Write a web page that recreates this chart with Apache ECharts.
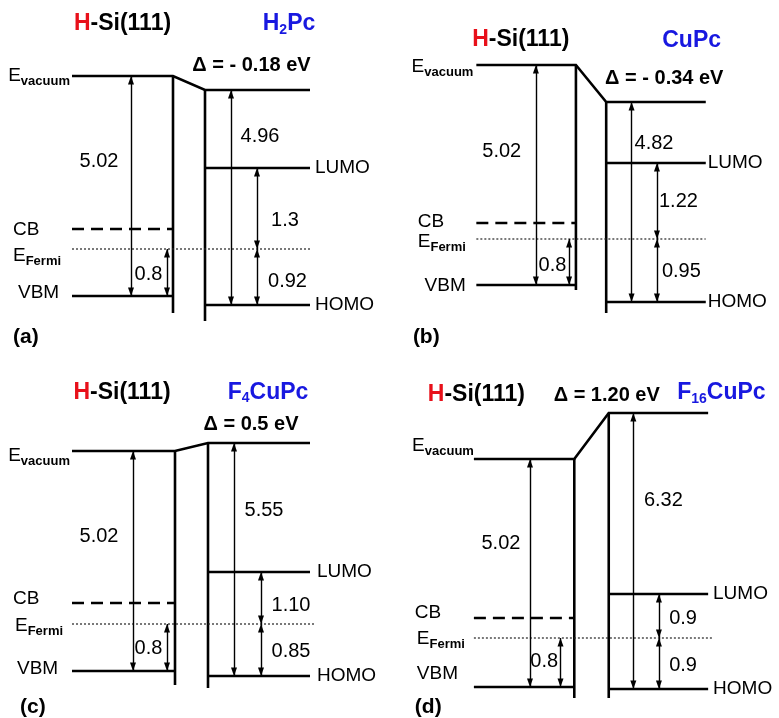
<!DOCTYPE html>
<html><head><meta charset="utf-8">
<script src="https://cdn.jsdelivr.net/npm/echarts@6/dist/echarts.min.js"></script>
<style>html,body{margin:0;padding:0;background:#fff}#c{width:779px;height:718px}</style>
</head><body><div id="c"></div>
<script>
// ---------------- data (values shown in the figure) ----------------
const panelTags = ['(a)', '(b)', '(c)', '(d)'];
const substrate = ['H', '-Si(111)'];
// organic material names: [main, subscript, rest]
const materials = [['H', '2', 'Pc'], ['CuPc', '', ''], ['F', '4', 'CuPc'], ['F', '16', 'CuPc']];
const deltaText = ['- 0.18', '- 0.34', '0.5', '1.20'];          // interface dipole Δ (eV)
const siVacToVbm = ['5.02', '5.02', '5.02', '5.02'];             // eV
const fermiToVbm = ['0.8', '0.8', '0.8', '0.8'];                 // eV
const ionization = ['4.96', '4.82', '5.55', '6.32'];             // organic vacuum -> HOMO (eV)
const lumoAboveFermi = ['1.3', '1.22', '1.10', '0.9'];           // eV
const homoBelowFermi = ['0.92', '0.95', '0.85', '0.9'];          // eV
const levelNames = ['E', 'vacuum', 'CB', 'Fermi', 'VBM', 'LUMO', 'HOMO'];

// schematic (not-to-scale) drawn heights of each level above E_Fermi
const drawnVacSi = [173, 174, 173, 179];
const drawnVacOrg = [159, 137, 181, 225];
const drawnLumo = [81, 76, 52, 44];
const drawnCb = [20, 16, 21, 20];
const drawnVbm = [-47, -46, -47, -49];
const drawnHomo = [-56, -63, -52, -51];
const drawnSiBottom = [-64, -51, -61, -60];
const drawnOrgBottom = [-72, -74, -64, -60];

// ---------------- layout ----------------
const F = '"Liberation Sans", Arial, Helvetica, sans-serif';
const layout = [
  { ox: 72, oy: 249, siR: 101, orgL: 133, orgR: 238, fermiR: 238, ax: [59, 95, 159, 185], lg: 5, subLow: false,
    t: { title: [50.5, 225], mat: [217, 225], delta: [179.5, 184], evac: [-2, 173.5], v1: [27, 88], v08: [76.5, -25.5],
         ip: [188, 113], gu: [213, 28.5], gl: [215.5, -32.5], cb: [-59, 19.5], ef: [-59, -7], vbm: [-54, -44], tag: [-59, -88] } },
  { ox: 478, oy: 239, siR: 102, orgL: 133, orgR: 235, fermiR: 235, ax: [61, 95, 159, 185], lg: 2, subLow: false,
    t: { title: [45.5, 199.5], mat: [220.5, 198.5], delta: [192.5, 160.5], evac: [-3, 172], v1: [26, 87.5], v08: [78, -26],
         ip: [182, 95.5], gu: [207, 37.5], gl: [210, -32.5], cb: [-60, 17], ef: [-60, -2.5], vbm: [-53, -47], tag: [-65, -98] } },
  { ox: 72, oy: 624, siR: 103, orgL: 136, orgR: 238, fermiR: 243, ax: [61, 95, 162, 189], lg: 7, subLow: false,
    t: { title: [50, 231.5], mat: [196, 231.5], delta: [179, 200], evac: [-2, 168], v1: [27, 87.5], v08: [76.5, -24.5],
         ip: [192, 114], gu: [219, 19], gl: [219, -27.5], cb: [-59, 25], ef: [-57, -2], vbm: [-55, -45], tag: [-52, -83] } },
  { ox: 475, oy: 638, siR: 102, orgL: 137, orgR: 238, fermiR: 243, ax: [57, 88, 162, 188], lg: 5, subLow: true,
    t: { title: [2.5, 243.5], mat: [251.5, 245], delta: [135, 243], evac: [0, 192], v1: [27.5, 94.5], v08: [71.5, -23.5],
         ip: [192.5, 138], gu: [212.5, 19.5], gl: [212.5, -27], cb: [-60, 25.5], ef: [-58, -0.5], vbm: [-58, -35.5], tag: [-60, -69] } }
];

const BLACK = '#000';
const RED = '#e8101a';
const BLUE = '#1818e0';
const R = {
  red: { fontFamily: F, fontWeight: 'bold', fontSize: 23, color: RED, lineHeight: 26 },
  ttl: { fontFamily: F, fontWeight: 'bold', fontSize: 23, color: BLACK, lineHeight: 26 },
  mat: { fontFamily: F, fontWeight: 'bold', fontSize: 23, color: BLUE, lineHeight: 26 },
  msub: { fontFamily: F, fontWeight: 'bold', fontSize: 14, color: BLUE, lineHeight: 11, verticalAlign: 'bottom' },
  msubLow: { fontFamily: F, fontWeight: 'bold', fontSize: 14, color: BLUE, lineHeight: 2, verticalAlign: 'bottom' },
  dlt: { fontFamily: F, fontWeight: 'bold', fontSize: 20, color: BLACK },
  num: { fontFamily: F, fontSize: 20, color: BLACK },
  lvl: { fontFamily: F, fontSize: 19, color: BLACK },
  E: { fontFamily: F, fontSize: 19, color: BLACK, lineHeight: 24 },
  subV: { fontFamily: F, fontWeight: 'bold', fontSize: 13, color: BLACK, lineHeight: 8, verticalAlign: 'bottom' },
  subF: { fontFamily: F, fontWeight: 'bold', fontSize: 13, color: BLACK, lineHeight: 12, verticalAlign: 'bottom' },
  tag: { fontFamily: F, fontWeight: 'bold', fontSize: 21, color: BLACK }
};

const grids = [], xAxes = [], yAxes = [], series = [];

layout.forEach((L, i) => {
  grids.push({ left: L.ox - 70, top: L.oy - 230, width: 380, height: 310 });
  xAxes.push({ gridIndex: i, type: 'value', min: -70, max: 310, show: false });
  yAxes.push({ gridIndex: i, type: 'value', min: -80, max: 230, show: false });

  const vS = drawnVacSi[i], vO = drawnVacOrg[i], lu = drawnLumo[i], cb = drawnCb[i];
  const vb = drawnVbm[i], ho = drawnHomo[i];
  const solid = { color: '#000', width: 2.6, type: 'solid', opacity: 1 };

  // energy levels
  series.push({
    type: 'lines', coordinateSystem: 'cartesian2d', xAxisIndex: i, yAxisIndex: i,
    polyline: true, clip: false, silent: true, animation: false, symbol: 'none',
    lineStyle: solid,
    data: [
      { coords: [[0, vS], [L.siR, vS], [L.orgL, vO], [L.orgR, vO]] },
      { coords: [[L.siR, vS], [L.siR, drawnSiBottom[i]]] },
      { coords: [[L.orgL, vO], [L.orgL, drawnOrgBottom[i]]] },
      { coords: [[0, vb], [L.siR, vb]] },
      { coords: [[L.orgL, lu], [L.orgR, lu]] },
      { coords: [[L.orgL, ho], [L.orgR, ho]] },
      { coords: [[0, cb], [L.siR, cb]], lineStyle: { color: '#000', width: 2.6, type: [12, 7], opacity: 1 } },
      { coords: [[0, 0], [L.fermiR, 0]], lineStyle: { color: '#222', width: 1.2, type: [2, 2], opacity: 1 } }
    ]
  });

  // arrow shafts
  const arrows = [
    [L.ax[0], vS, vb], [L.ax[1], 0, vb], [L.ax[2], vO, ho], [L.ax[3], lu, 0], [L.ax[3], 0, ho]
  ];
  series.push({
    type: 'lines', coordinateSystem: 'cartesian2d', xAxisIndex: i, yAxisIndex: i,
    clip: false, silent: true, animation: false, symbol: 'none',
    lineStyle: { color: '#000', width: 1.4, opacity: 1 },
    data: arrows.map(a => ({ coords: [[a[0], a[1]], [a[0], a[2]]] }))
  });
  // arrow heads (triangle tips sit on the levels)
  const heads = [];
  const hh = 8.5;
  arrows.forEach(a => {
    const top = Math.max(a[1], a[2]), bot = Math.min(a[1], a[2]);
    heads.push({ value: [a[0], top - hh / 2], symbolRotate: 0 });
    heads.push({ value: [a[0], bot + hh / 2], symbolRotate: 180 });
  });
  series.push({
    type: 'scatter', xAxisIndex: i, yAxisIndex: i, clip: false, silent: true, animation: false,
    symbol: 'triangle', symbolSize: [6, hh], itemStyle: { color: '#000', opacity: 1 },
    data: heads
  });

  // texts
  const T = L.t;
  const m = materials[i];
  const matStr = '{mat|' + m[0] + '}' + (m[1] ? '{' + (L.subLow ? 'msubLow' : 'msub') + '|' + m[1] + '}' : '') + (m[2] ? '{mat|' + m[2] + '}' : '');
  const c = (p, s) => ({ value: p, label: { position: 'inside', formatter: s } });
  const l = (p, s) => ({ value: p, label: { position: 'right', distance: 0, formatter: s } });
  const r = (p, s) => ({ value: p, label: { position: 'left', distance: 0, formatter: s } });
  const texts = [
    c(T.title, '{red|' + substrate[0] + '}{ttl|' + substrate[1] + '}'),
    c(T.mat, matStr),
    c(T.delta, '{dlt|Δ = ' + deltaText[i] + ' eV}'),
    r(T.evac, '{E|' + levelNames[0] + '}{subV|' + levelNames[1] + '}'),
    c(T.v1, '{num|' + siVacToVbm[i] + '}'),
    c(T.v08, '{num|' + fermiToVbm[i] + '}'),
    c(T.ip, '{num|' + ionization[i] + '}'),
    c(T.gu, '{num|' + lumoAboveFermi[i] + '}'),
    c(T.gl, '{num|' + homoBelowFermi[i] + '}'),
    l(T.cb, '{lvl|' + levelNames[2] + '}'),
    l(T.ef, '{E|' + levelNames[0] + '}{subF|' + levelNames[3] + '}'),
    l(T.vbm, '{lvl|' + levelNames[4] + '}'),
    l([L.orgR + L.lg, lu], '{lvl|' + levelNames[5] + '}'),
    l([L.orgR + L.lg, ho], '{lvl|' + levelNames[6] + '}'),
    l(T.tag, '{tag|' + panelTags[i] + '}')
  ];
  series.push({
    type: 'scatter', xAxisIndex: i, yAxisIndex: i, clip: false, silent: true, animation: false,
    symbolSize: 0, itemStyle: { color: 'rgba(0,0,0,0)' },
    label: { show: true, fontFamily: F, color: BLACK, opacity: 1, rich: R },
    data: texts
  });
});

const chart = echarts.init(document.getElementById('c'), null, { renderer: 'canvas' });
chart.setOption({
  backgroundColor: '#fff',
  animation: false,
  grid: grids, xAxis: xAxes, yAxis: yAxes, series: series
});
</script>
</body></html>
